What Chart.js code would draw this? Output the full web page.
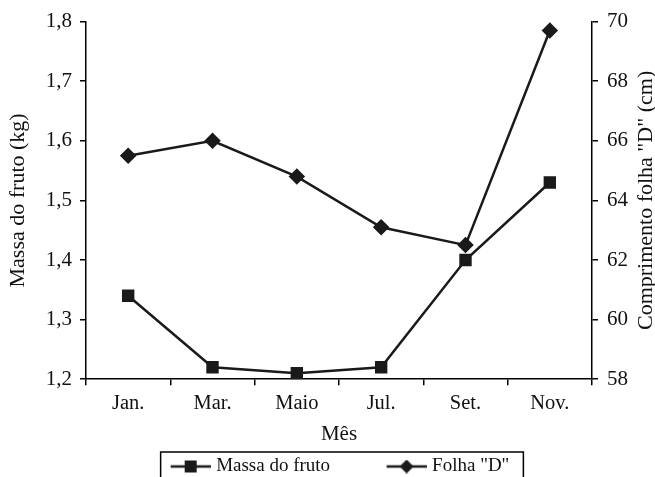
<!DOCTYPE html>
<html>
<head>
<meta charset="utf-8">
<script src="https://cdn.jsdelivr.net/npm/chart.js@4/dist/chart.umd.min.js"></script>
<style>
  html, body { margin: 0; padding: 0; background: #fff; }
  #wrap { width: 655px; height: 477px; }
</style>
</head>
<body>
<div id="wrap"><canvas id="chart"></canvas></div>
<script>
const months = ["Jan.", "Mar.", "Maio", "Jul.", "Set.", "Nov."];
const massaFruto = [1.34, 1.22, 1.21, 1.22, 1.40, 1.53];
const folhaD = [65.5, 66.0, 64.8, 63.1, 62.5, 69.7];
const leftTicks = [1.2, 1.3, 1.4, 1.5, 1.6, 1.7, 1.8];
const rightTicks = [58, 60, 62, 64, 66, 68, 70];
const rightTitle = 'Comprimento folha "D" (cm)';

const serif = "'Liberation Serif', 'DejaVu Serif', serif";

// legend icons: line with marker; drawn right of centre so the text sits closer
function legendIcon(kind) {
  const c = document.createElement("canvas");
  c.width = 48; c.height = 14;
  const g = c.getContext("2d");
  g.strokeStyle = "#1a1a1a";
  g.fillStyle = "#1a1a1a";
  g.lineWidth = 2.5;
  g.beginPath(); g.moveTo(8, 7); g.lineTo(48, 7); g.stroke();
  if (kind === "square") {
    g.fillRect(22, 1, 12, 12);
  } else {
    g.beginPath();
    g.moveTo(28, 0); g.lineTo(35, 7); g.lineTo(28, 14); g.lineTo(21, 7);
    g.closePath(); g.fill();
  }
  return c;
}

const extras = {
  id: "extras",
  afterLayout(chart) {
    // legend sits a bit right of the page centre in the original
    chart.legend.left += 10;
    chart.legend.right += 10;
  },
  afterDraw(chart) {
    const ctx = chart.ctx;
    const lg = chart.legend;
    ctx.save();
    // box around the legend, cut by the bottom edge
    if (lg && lg.legendHitBoxes.length) {
      const hb = lg.legendHitBoxes;
      const left = Math.min(...hb.map(b => b.left)) - 6;
      const right = Math.max(...hb.map(b => b.left + b.width)) + 14;
      ctx.strokeStyle = "#000";
      ctx.lineWidth = 1.5;
      ctx.strokeRect(left, lg.top, right - left, lg.height + 30);
    }
    // right axis title reads bottom-to-top like the left one
    const s = chart.scales.y1;
    const area = chart.chartArea;
    ctx.translate(s.right - 9, (area.top + area.bottom) / 2);
    ctx.rotate(-Math.PI / 2);
    ctx.fillStyle = "#111";
    ctx.font = "22px " + serif;
    ctx.textAlign = "center";
    ctx.textBaseline = "middle";
    ctx.fillText(rightTitle, 0, 0);
    ctx.restore();
  }
};

new Chart(document.getElementById("chart"), {
  type: "line",
  data: {
    labels: months,
    datasets: [
      {
        label: "Massa do fruto",
        data: massaFruto,
        yAxisID: "y",
        borderColor: "#1a1a1a",
        backgroundColor: "#1a1a1a",
        borderWidth: 2.5,
        pointStyle: "rect",
        pointRadius: 7,
        tension: 0
      },
      {
        label: 'Folha "D"',
        data: folhaD,
        yAxisID: "y1",
        borderColor: "#1a1a1a",
        backgroundColor: "#1a1a1a",
        borderWidth: 2.5,
        pointStyle: "rectRot",
        pointRadius: 6.5,
        tension: 0
      }
    ]
  },
  options: {
    responsive: true,
    maintainAspectRatio: false,
    animation: false,
    layout: { padding: { top: 6, left: 1, right: 0, bottom: -9 } },
    plugins: {
      legend: {
        position: "bottom",
        labels: {
          usePointStyle: true,
          pointStyleWidth: 40,
          padding: 5,
          color: "#111",
          font: { family: serif, size: 19 },
          generateLabels(chart) {
            return chart.data.datasets.map((ds, i) => ({
              text: i === 0 ? ds.label + "          " : ds.label,
              pointStyle: legendIcon(i === 0 ? "square" : "diamond"),
              datasetIndex: i,
              hidden: false,
              fontColor: "#111",
              lineWidth: 0
            }));
          }
        }
      },
      tooltip: { enabled: false }
    },
    scales: {
      x: {
        offset: true,
        grid: { offset: true, drawOnChartArea: false, drawTicks: true, tickLength: 6, color: "#000", lineWidth: 1.5 },
        border: { color: "#000", width: 1.5 },
        ticks: { color: "#111", font: { family: serif, size: 20.5 }, padding: 6 },
        title: { display: true, text: "Mês", color: "#111", font: { family: serif, size: 21 }, padding: { top: 0, bottom: 5 } }
      },
      y: {
        position: "left",
        min: 1.2,
        max: 1.8,
        afterBuildTicks(scale) { scale.ticks = leftTicks.map(v => ({ value: v })); },
        afterFit(scale) { scale.width = 85; },
        grid: { drawOnChartArea: false, tickLength: 6, color: "#000", lineWidth: 1.5 },
        border: { color: "#000", width: 1.5 },
        ticks: {
          color: "#111",
          font: { family: serif, size: 21 },
          padding: 8,
          callback: v => v.toFixed(1).replace(".", ",")
        },
        title: { display: true, text: "Massa do fruto (kg)", color: "#111", font: { family: serif, size: 22 }, padding: { top: 4, bottom: 8 } }
      },
      y1: {
        position: "right",
        min: 58,
        max: 70,
        afterBuildTicks(scale) { scale.ticks = rightTicks.map(v => ({ value: v })); },
        afterFit(scale) { scale.width = 63; },
        grid: { drawOnChartArea: false, tickLength: 6, color: "#000", lineWidth: 1.5 },
        border: { color: "#000", width: 1.5 },
        ticks: { color: "#111", font: { family: serif, size: 21 }, padding: 9 },
        // space kept here, text drawn by the extras plugin
        title: { display: true, text: rightTitle, color: "rgba(0,0,0,0)", font: { family: serif, size: 22 }, padding: { top: 0, bottom: 0 } }
      }
    }
  },
  plugins: [extras]
});
</script>
</body>
</html>
